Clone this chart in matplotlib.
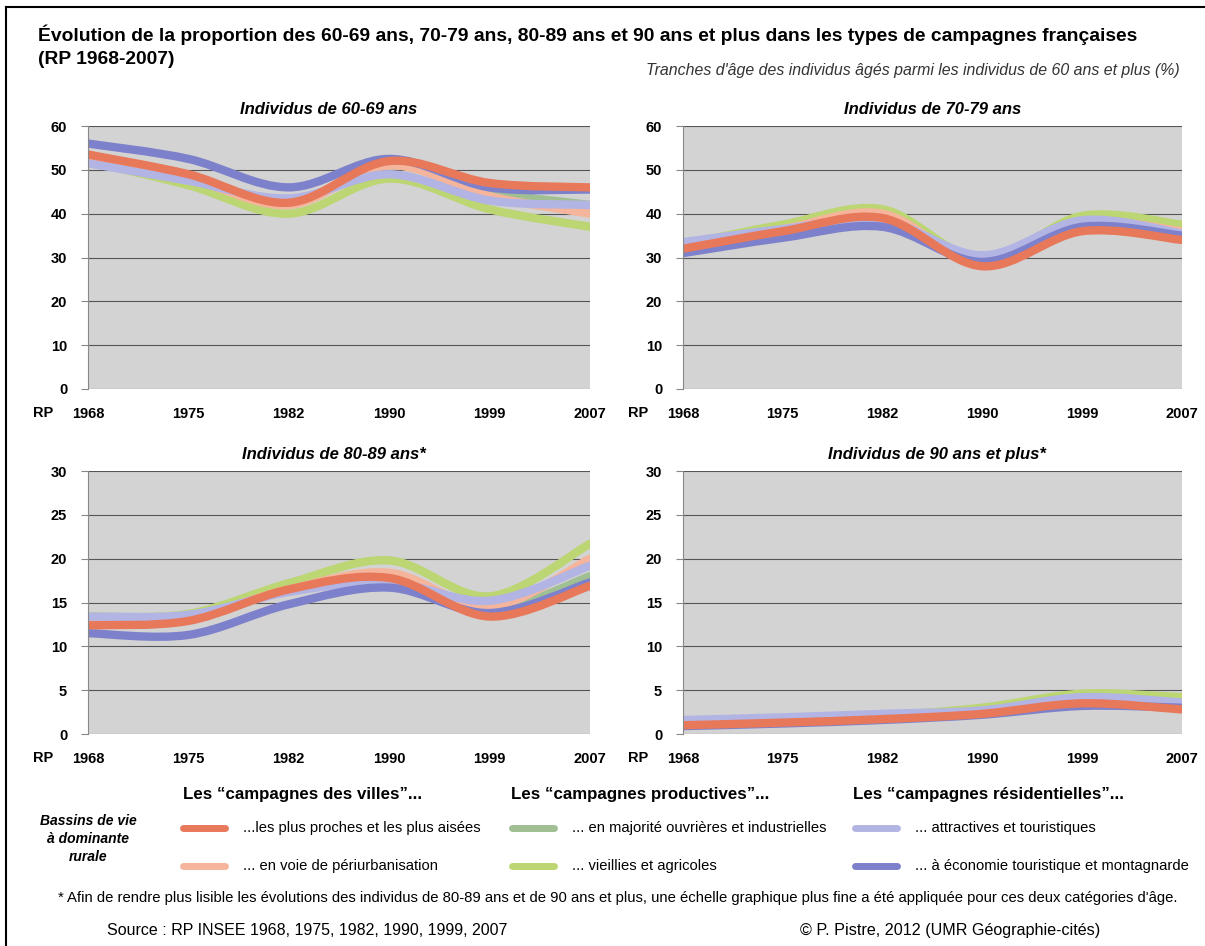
import numpy as np
import matplotlib.pyplot as plt
from matplotlib.path import Path
from matplotlib.patches import PathPatch
from matplotlib.lines import Line2D

plt.rcParams['font.family'] = ['Liberation Sans', 'DejaVu Sans']

# --- data -------------------------------------------------------------
years = ['1968', '1975', '1982', '1990', '1999', '2007']

# 60-69 ans
a60_aisees = [53.5, 49.0, 42.5, 52.0, 47.0, 46.0]
a60_periurb = [52.0, 48.0, 42.0, 51.0, 44.0, 40.0]
a60_ouvrieres = [52.5, 48.0, 42.5, 51.0, 45.0, 42.0]
a60_agricoles = [52.0, 46.5, 40.0, 48.0, 41.0, 37.0]
a60_attractives = [51.5, 47.5, 43.5, 49.0, 43.0, 42.0]
a60_montagne = [56.0, 52.5, 46.0, 52.5, 46.0, 45.5]

# 70-79 ans
a70_aisees = [32.0, 36.0, 39.0, 28.0, 36.0, 34.0]
a70_periurb = [32.5, 36.5, 40.0, 28.5, 38.0, 36.0]
a70_ouvrieres = [33.0, 37.0, 40.0, 29.0, 38.5, 36.5]
a70_agricoles = [33.0, 37.5, 41.0, 29.5, 39.5, 37.5]
a70_attractives = [33.5, 36.5, 38.5, 30.5, 38.5, 35.5]
a70_montagne = [31.0, 34.5, 37.0, 29.0, 37.0, 35.0]

# 80-89 ans
a80_aisees = [12.4, 12.9, 16.5, 17.8, 13.4, 16.9]
a80_periurb = [12.8, 13.3, 16.5, 18.4, 14.5, 20.0]
a80_ouvrieres = [13.0, 13.4, 16.5, 17.7, 14.2, 18.0]
a80_agricoles = [13.4, 13.7, 17.2, 19.8, 15.7, 21.7]
a80_attractives = [13.4, 13.6, 16.2, 17.3, 15.2, 19.2]
a80_montagne = [11.5, 11.3, 14.8, 16.7, 13.8, 17.3]

# 90 ans et plus
a90_aisees = [1.0, 1.3, 1.7, 2.3, 3.5, 2.8]
a90_periurb = [1.2, 1.5, 1.9, 2.6, 3.9, 3.5]
a90_ouvrieres = [1.3, 1.6, 2.0, 2.8, 4.3, 3.8]
a90_agricoles = [1.4, 1.7, 2.1, 3.0, 4.6, 4.2]
a90_attractives = [1.6, 1.9, 2.3, 2.7, 4.2, 3.6]
a90_montagne = [0.9, 1.2, 1.6, 2.2, 3.2, 3.0]

labels = ['...les plus proches et les plus aisées',
          '... en voie de périurbanisation',
          '... en majorité ouvrières et industrielles',
          '... vieillies et agricoles',
          '... attractives et touristiques',
          '... à économie touristique et montagnarde']
colors = ['#E8785A', '#F4B59C', '#A0BF92', '#BBD672', '#B2B4E4', '#7D81CB']

# --- helpers ----------------------------------------------------------
def smooth_path(y):
    # bezier curve through the points, like the "smoothed line" option of Excel
    x = np.arange(len(y), dtype=float)
    y = np.asarray(y, dtype=float)
    pts = np.column_stack([x, y])
    verts = [pts[0]]
    codes = [Path.MOVETO]
    n = len(pts)
    for i in range(n - 1):
        p0 = pts[max(i - 1, 0)]
        p1 = pts[i]
        p2 = pts[i + 1]
        p3 = pts[min(i + 2, n - 1)]
        c1 = p1 + (p2 - p0) / 6.0
        c2 = p2 - (p3 - p1) / 6.0
        verts += [c1, c2, p2]
        codes += [Path.CURVE4] * 3
    return Path(verts, codes)


def panel(ax, series, ymax, step, title, tx):
    ax.set_facecolor('#D3D3D3')
    ax.set_xlim(0, len(years) - 1)
    ax.set_ylim(0, ymax)
    ax.set_yticks(np.arange(0, ymax + 1, step))
    ax.set_xticks(range(len(years)))
    ax.set_xticklabels(years)
    ax.yaxis.grid(True, color='#555555', linewidth=0.8)
    ax.set_axisbelow(True)
    for s in ['top', 'right', 'bottom']:
        ax.spines[s].set_visible(False)
    ax.spines['left'].set_color('#888888')
    ax.tick_params(axis='y', length=5, color='#888888', labelsize=10.5, pad=10)
    ax.tick_params(axis='x', length=0, labelsize=10.5, pad=13)
    for lab in ax.get_xticklabels() + ax.get_yticklabels():
        lab.set_fontweight('bold')
    ax.text(-0.09, -0.09, 'RP', transform=ax.transAxes, ha='center', va='center',
            fontsize=10.5, fontweight='bold')
    ax.set_title(title, fontsize=12, fontweight='bold', style='italic', pad=9, x=tx)
    # draw order: ouvrières, agricoles, périurb, attractives, montagne, aisées
    for k in [2, 3, 1, 4, 5, 0]:
        patch = PathPatch(smooth_path(series[k]), facecolor='none', edgecolor=colors[k],
                          lw=6, capstyle='round', joinstyle='round')
        ax.add_patch(patch)


fig = plt.figure(figsize=(12.05, 9.46), dpi=100)

ax1 = fig.add_axes([0.0730, 0.5888, 0.4166, 0.278])
ax2 = fig.add_axes([0.5668, 0.5888, 0.4140, 0.278])
ax3 = fig.add_axes([0.0730, 0.2241, 0.4166, 0.278])
ax4 = fig.add_axes([0.5668, 0.2241, 0.4140, 0.278])

panel(ax1, [a60_aisees, a60_periurb, a60_ouvrieres, a60_agricoles, a60_attractives, a60_montagne],
      60, 10, 'Individus de 60-69 ans', 0.48)
panel(ax2, [a70_aisees, a70_periurb, a70_ouvrieres, a70_agricoles, a70_attractives, a70_montagne],
      60, 10, 'Individus de 70-79 ans', 0.5)
panel(ax3, [a80_aisees, a80_periurb, a80_ouvrieres, a80_agricoles, a80_attractives, a80_montagne],
      30, 5, 'Individus de 80-89 ans*', 0.49)
panel(ax4, [a90_aisees, a90_periurb, a90_ouvrieres, a90_agricoles, a90_attractives, a90_montagne],
      30, 5, 'Individus de 90 ans et plus*', 0.51)

# titles
fig.text(38 / 1205, 1 - 35 / 946,
         'Évolution de la proportion des 60-69 ans, 70-79 ans, 80-89 ans et 90 ans et plus dans les types de campagnes françaises',
         fontsize=13.9, fontweight='bold', va='center')
fig.text(38 / 1205, 1 - 59 / 946, '(RP 1968-2007)', fontsize=13.9, fontweight='bold', va='center')
fig.text(1180 / 1205, 1 - 70 / 946,
         "Tranches d'âge des individus âgés parmi les individus de 60 ans et plus (%)",
         fontsize=11.4, style='italic', color='#333333', ha='right', va='center')

# legend
heads = ['Les “campagnes des villes”...', 'Les “campagnes productives”...',
         'Les “campagnes résidentielles”...']
head_x = [183, 511, 853]
sw_x = [183, 512, 855]
for j in range(3):
    fig.text(head_x[j] / 1205, 1 - 795 / 946, heads[j], fontsize=12.2, fontweight='bold', va='center')
    for r, yy in enumerate([828, 866]):
        k = 2 * j + r
        yf = 1 - yy / 946
        fig.add_artist(Line2D([sw_x[j] / 1205, (sw_x[j] + 42) / 1205], [yf, yf],
                              color=colors[k], lw=5, solid_capstyle='round'))
        fig.text((sw_x[j] + 60) / 1205, yf, labels[k], fontsize=10.6, va='center')

fig.text(88 / 1205, 1 - 839 / 946, 'Bassins de vie\nà dominante\nrurale', fontsize=10,
         fontweight='bold', style='italic', ha='center', va='center', linespacing=1.35)

fig.text(58 / 1205, 1 - 898 / 946,
         "* Afin de rendre plus lisible les évolutions des individus de 80-89 ans et de 90 ans et plus, "
         "une échelle graphique plus fine a été appliquée pour ces deux catégories d'âge.",
         fontsize=10.7, va='center')
fig.text(107 / 1205, 1 - 930 / 946, 'Source : RP INSEE 1968, 1975, 1982, 1990, 1999, 2007',
         fontsize=11.5, va='center')
fig.text(800 / 1205, 1 - 930 / 946, '© P. Pistre, 2012 (UMR Géographie-cités)',
         fontsize=11.6, va='center')

# frame around the whole sheet (top and left edges visible)
fig.add_artist(Line2D([6 / 1205, 1], [1 - 7 / 946, 1 - 7 / 946], color='black', lw=1.5))
fig.add_artist(Line2D([6 / 1205, 6 / 1205], [0, 1 - 7 / 946], color='black', lw=1.5))

fig.savefig('out.png', dpi=100, facecolor='white')
